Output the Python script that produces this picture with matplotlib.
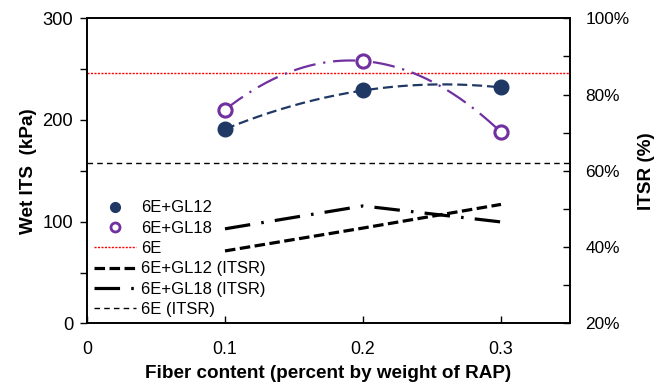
import numpy as np
import matplotlib
matplotlib.use("Agg")
import matplotlib.pyplot as plt
from matplotlib.lines import Line2D
from matplotlib.ticker import MultipleLocator, FuncFormatter

plt.rcParams['font.family'] = ['Liberation Sans', 'DejaVu Sans']

# Fiber content (percent by weight of RAP)
fiber = [0.1, 0.2, 0.3]

# Wet ITS (kPa)
its_gl12 = [191, 229, 232]
its_gl18 = [210, 258, 188]
its_6e = 246

# ITSR (%)
itsr_gl12 = [39.0, 45.0, 51.2]
itsr_gl18 = [44.8, 50.8, 46.6]
itsr_6e = 62.0

navy = '#1F3864'
purple = '#7030A0'

fig = plt.figure(figsize=(6.68, 3.85), dpi=100)
ax = fig.add_axes([0.1302, 0.16, 0.7231, 0.7925])
ax2 = ax.twinx()

# quadratic trend curves through the ITS points
xs = np.linspace(min(fiber), max(fiber), 200)
c12 = np.polyfit(fiber, its_gl12, 2)
c18 = np.polyfit(fiber, its_gl18, 2)
ax.plot(xs, np.polyval(c12, xs), color=navy, lw=1.6, dashes=(4.5, 2.2), zorder=2)
ax.plot(xs, np.polyval(c18, xs), color=purple, lw=1.6, dashes=(10, 3.5, 1, 3.5), zorder=2)

ax.axhline(its_6e, color='#FF0000', lw=1.0, dashes=(1.5, 1.0), zorder=1)

ax.plot(fiber, its_gl12, 'o', color=navy, ms=10.5, zorder=4, linestyle='none')
ax.plot(fiber, its_gl18, 'o', mfc='white', mec=purple, mew=2.2, ms=9.5, zorder=4,
        linestyle='none')

# ITSR on the secondary axis
ax2.plot(fiber, itsr_gl12, color='black', lw=2.3, dashes=(3.3, 1.4))
ax2.plot(fiber, itsr_gl18, color='black', lw=2.3, dashes=(8, 3.5, 0.8, 3.5))
ax2.axhline(itsr_6e, color='black', lw=1.0, dashes=(4, 3))

ax.set_xlim(0, 0.35)
ax.set_ylim(0, 300)
ax2.set_ylim(20, 100)

ax.set_xticks([0, 0.1, 0.2, 0.3])
ax.set_xticklabels(['0', '0.1', '0.2', '0.3'])
ax.yaxis.set_major_locator(MultipleLocator(100))
ax.yaxis.set_minor_locator(MultipleLocator(50))
ax2.yaxis.set_major_locator(MultipleLocator(20))
ax2.yaxis.set_minor_locator(MultipleLocator(10))
ax2.yaxis.set_major_formatter(FuncFormatter(lambda v, p: f'{v:.0f}%'))

ax.tick_params(axis='x', direction='in', length=5, width=1, labelsize=12.8, pad=13)
ax.tick_params(axis='y', which='both', direction='out', length=5, width=1,
               labelsize=13.2, pad=5)
ax.tick_params(axis='y', which='minor', labelleft=False)
ax2.tick_params(axis='y', which='both', direction='in', length=5, width=1,
                labelsize=12.4, pad=11)

for a in (ax, ax2):
    for s in a.spines.values():
        s.set_linewidth(1.2)

ax.set_xlabel('Fiber content (percent by weight of RAP)', fontsize=13.6,
              fontweight='bold', labelpad=5)
ax.set_ylabel('Wet ITS  (kPa)', fontsize=13.6, fontweight='bold', labelpad=4)
ax2.set_ylabel('ITSR (%)', fontsize=13.6, fontweight='bold', labelpad=6)

handles = [
    Line2D([], [], marker='o', color=navy, ms=7, linestyle='none'),
    Line2D([], [], marker='o', mfc='white', mec=purple, mew=2, ms=6.5, linestyle='none'),
    Line2D([], [], color='#FF0000', lw=1.0, dashes=(1.5, 1.0)),
    Line2D([], [], color='black', lw=2.3, dashes=(3.3, 1.4)),
    Line2D([], [], color='black', lw=2.3, dashes=(8, 3.5, 0.8, 3.5)),
    Line2D([], [], color='black', lw=1.0, dashes=(4, 3)),
]
labels = ['6E+GL12', '6E+GL18', '6E', '6E+GL12 (ITSR)', '6E+GL18 (ITSR)', '6E (ITSR)']
ax2.legend(handles, labels, loc='lower left', bbox_to_anchor=(-0.006, -0.012),
           frameon=False, fontsize=12, handlelength=2.5, handletextpad=0.3,
           labelspacing=0.32, borderaxespad=0.2)

fig.savefig('out.png', dpi=100)
